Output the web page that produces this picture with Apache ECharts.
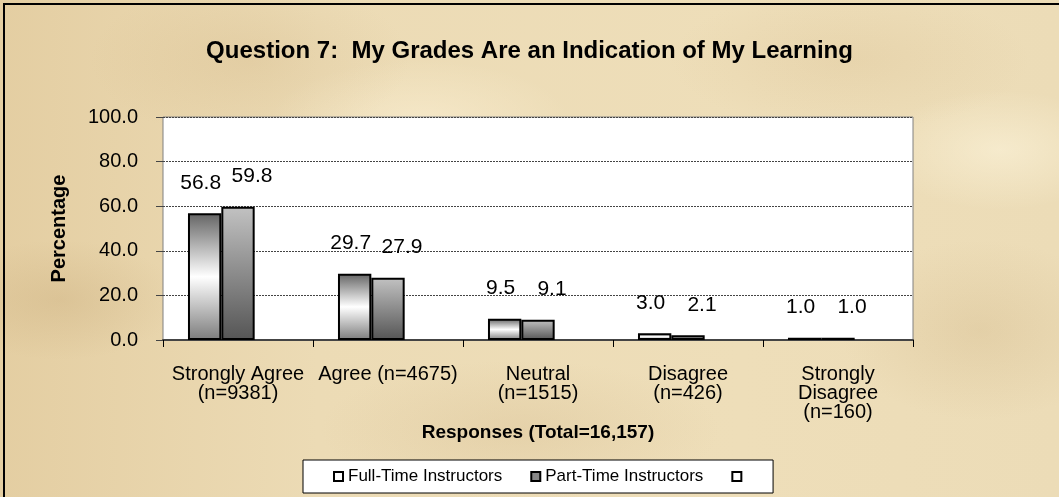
<!DOCTYPE html>
<html>
<head>
<meta charset="utf-8">
<script src="https://cdn.jsdelivr.net/npm/echarts@6/dist/echarts.min.js"></script>
<style>
html,body{margin:0;padding:0;}
body{
  width:1059px;height:497px;overflow:hidden;
  background:
    radial-gradient(ellipse 120px 60px at 60px 300px, rgba(195,165,115,0.30), rgba(195,165,115,0) 100%),
    radial-gradient(ellipse 160px 80px at 250px 60px, rgba(205,175,125,0.25), rgba(205,175,125,0) 100%),
    radial-gradient(ellipse 200px 70px at 520px 430px, rgba(205,177,130,0.25), rgba(205,177,130,0) 100%),
    radial-gradient(ellipse 140px 90px at 980px 330px, rgba(200,170,120,0.25), rgba(200,170,120,0) 100%),
    radial-gradient(ellipse 180px 70px at 850px 60px, rgba(210,180,130,0.22), rgba(210,180,130,0) 100%),
    radial-gradient(ellipse 120px 60px at 1000px 150px, rgba(255,248,225,0.5), rgba(255,248,225,0) 100%),
    radial-gradient(ellipse 150px 60px at 420px 120px, rgba(255,245,220,0.45), rgba(255,245,220,0) 100%),
    linear-gradient(90deg, #e4cea2 0%, #ecdbb5 30%, #eedeb9 70%, #ecdcb7 100%);
}
#chart{width:1059px;height:497px;}
</style>
</head>
<body>
<div id="chart"></div>
<script>
var categories = ['Strongly Agree\n(n=9381)', 'Agree (n=4675)', 'Neutral\n(n=1515)', 'Disagree\n(n=426)', 'Strongly\nDisagree\n(n=160)'];
var fullTime = [56.8, 29.7, 9.5, 3.0, 1.0];
var partTime = [59.8, 27.9, 9.1, 2.1, 1.0];
var thirdSeries = [];
var yTicks = [0, 20, 40, 60, 80, 100];
var seriesNames = ['Full-Time Instructors', 'Part-Time Instructors', ' '];

var chart = echarts.init(document.getElementById('chart'), null, {renderer: 'canvas'});
var font = 'Arial, "Liberation Sans", sans-serif';

function labelCfg(dx) {
  return {
    show: true, position: 'top', distance: 20, offset: [dx, 0],
    fontFamily: font, fontSize: 21, color: '#000',
    formatter: function (p) { return p.value.toFixed(1); }
  };
}

var option = {
  backgroundColor: 'transparent',
  animation: false,
  title: {
    text: 'Question 7:  My Grades Are an Indication of My Learning',
    left: 'center', top: 34,
    textStyle: {fontFamily: font, fontSize: 24, fontWeight: 'bold', color: '#000'}
  },
  graphic: [{
    type: 'rect', z: -1,
    shape: {x: 4, y: 4, width: 1200, height: 700},
    style: {fill: 'none', stroke: '#000', lineWidth: 2}
  }],
  legend: {
    left: 303, top: 460,
    backgroundColor: '#fff', borderColor: '#000', borderWidth: 1,
    padding: [8, 22, 8, 30],
    itemWidth: 9, itemHeight: 9, itemGap: 28,
    textStyle: {fontFamily: font, fontSize: 17, color: '#000'},
    data: [
      {name: seriesNames[0], icon: 'rect', itemStyle: {color: '#fff', borderColor: '#000', borderWidth: 2}},
      {name: seriesNames[1], icon: 'rect', itemStyle: {color: '#888', borderColor: '#000', borderWidth: 2}},
      {name: seriesNames[2], icon: 'rect', itemStyle: {color: '#fff', borderColor: '#000', borderWidth: 2}}
    ]
  },
  grid: {
    left: 163, top: 117, width: 750, height: 223,
    show: true, backgroundColor: '#fff', borderColor: '#808080', borderWidth: 1
  },
  xAxis: {
    type: 'category', data: categories,
    name: 'Responses (Total=16,157)', nameLocation: 'middle', nameGap: 83,
    nameTextStyle: {fontFamily: font, fontSize: 19, fontWeight: 'bold', color: '#000'},
    axisLine: {show: true, lineStyle: {color: '#444', width: 2}},
    axisTick: {show: true, length: 7, interval: 0, lineStyle: {color: '#000', width: 1}},
    axisLabel: {interval: 0, margin: 25, fontFamily: font, fontSize: 20, lineHeight: 19, color: '#000'},
    splitLine: {show: false}
  },
  yAxis: {
    type: 'value', min: yTicks[0], max: yTicks[yTicks.length - 1], interval: 20,
    name: 'Percentage', nameLocation: 'middle', nameGap: 94, nameRotate: 90,
    nameTextStyle: {fontFamily: font, fontSize: 20, fontWeight: 'bold', color: '#000'},
    axisLine: {show: false},
    axisTick: {show: true, length: 7, lineStyle: {color: '#444'}},
    axisLabel: {margin: 25, fontFamily: font, fontSize: 20, color: '#000',
      formatter: function (v) { return v.toFixed(1); }},
    splitLine: {show: true, lineStyle: {color: '#444', width: 1, type: [2, 1]}}
  },
  series: [
    {
      name: seriesNames[0], type: 'bar', data: fullTime,
      barGap: '0%', barCategoryGap: '33.3%',
      itemStyle: {
        color: new echarts.graphic.LinearGradient(0, 0, 0, 1, [
          {offset: 0, color: '#646464'},
          {offset: 0.5, color: '#ffffff'},
          {offset: 1, color: '#7c7c7c'}
        ]),
        borderColor: '#000', borderWidth: 2
      },
      label: labelCfg(-4)
    },
    {
      name: seriesNames[1], type: 'bar', data: partTime,
      barGap: '0%', barCategoryGap: '33.3%',
      itemStyle: {
        color: new echarts.graphic.LinearGradient(0, 0, 0, 1, [
          {offset: 0, color: '#c2c2c2'},
          {offset: 1, color: '#555555'}
        ]),
        borderColor: '#000', borderWidth: 2
      },
      label: labelCfg(14)
    },
    {
      name: seriesNames[2], type: 'bar', data: thirdSeries,
      barGap: '0%', barCategoryGap: '33.3%',
      itemStyle: {color: '#fff', borderColor: '#000', borderWidth: 2}
    }
  ]
};
chart.setOption(option);
</script>
</body>
</html>
